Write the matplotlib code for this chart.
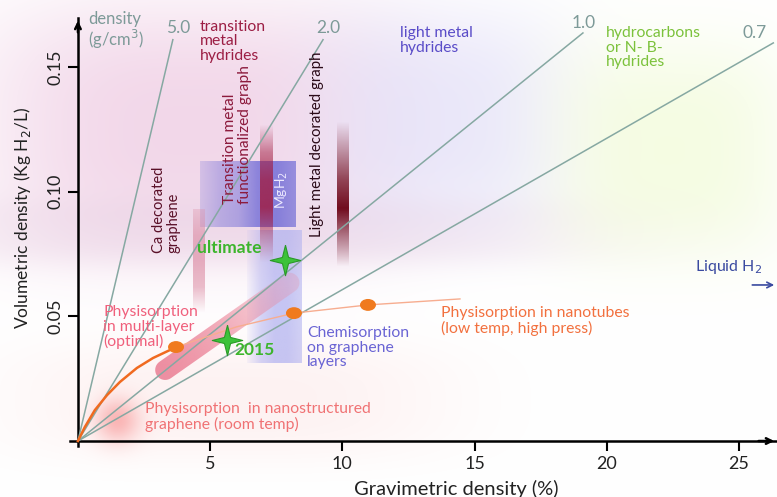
import numpy as np
import matplotlib
matplotlib.use('Agg')
import matplotlib.pyplot as plt
from matplotlib.path import Path
from matplotlib.patches import Ellipse, Polygon

plt.rcParams['font.family'] = ['Lato', 'DejaVu Sans']

# density guide lines (g/cm3): label, end point of the drawn line, label position
densities = ['5.0', '2.0', '1.0', '0.7']
dens_end_x = [3.59, 9.27, 19.1, 26.3]
dens_end_y = [0.161, 0.161, 0.1637, 0.1597]
dens_lab_x = [3.78, 9.46, 19.14, 25.6]
dens_lab_y = [0.1657, 0.1657, 0.1675, 0.1635]

# physisorption in multi-layer (optimal) curve
multi_x = [0.0, 0.26, 0.64, 1.10, 1.59, 2.23, 2.84, 3.48, 3.71]
multi_y = [0.0, 0.0056, 0.0124, 0.0184, 0.0237, 0.0293, 0.0333, 0.0365, 0.0377]

# physisorption in nanotubes (measured points and trend)
tube_x = [3.71, 8.17, 10.97]
tube_y = [0.0377, 0.0513, 0.0546]
trend_x = [3.71, 6.0, 8.17, 10.97, 14.45]
trend_y = [0.0377, 0.0458, 0.0513, 0.0546, 0.057]

# targets
target_names = ['ultimate', '2015']
target_x = [7.83, 5.64]
target_y = [0.0726, 0.0405]

# multi-layer band
band_x = [3.3, 8.0]
band_y = [0.0285, 0.0635]

# regions: (x0, x1, y0, y1)
mgh2_box = (4.6, 8.2, 0.0858, 0.112)
chem_box = (6.39, 8.47, 0.0313, 0.0846)
ca_bar = (4.35, 4.8, 0.0513, 0.0927)
tm_bar = (6.88, 7.34, 0.0714, 0.127)
lm_bar = (9.8, 10.25, 0.0698, 0.128)

W, H = 777, 497
fig = plt.figure(figsize=(W / 100, H / 100), dpi=100)

# soft coloured background washes
bg = fig.add_axes([0, 0, 1, 1], zorder=0)
yy, xx = np.mgrid[0:H, 0:W]
img = np.ones((H, W, 3))


def wash(cx, cy, sx, sy, col, a, p=2):
    m = a * np.exp(-(np.abs((xx - cx) / sx) ** p + np.abs((yy - cy) / sy) ** p))
    for k in range(3):
        img[:, :, k] = img[:, :, k] * (1 - m) + col[k] * m


wash(190, 130, 210, 130, (0.93, 0.78, 0.88), 0.7, 3)
wash(260, 230, 330, 35, (0.90, 0.80, 0.88), 0.45, 3)
wash(440, 120, 130, 110, (0.86, 0.85, 0.97), 0.55, 3)
wash(670, 150, 120, 110, (0.93, 0.98, 0.80), 0.55, 3)
wash(230, 400, 220, 60, (0.99, 0.90, 0.90), 0.5, 3)
wash(117, 420, 22, 22, (0.97, 0.55, 0.55), 0.6, 2)
bg.imshow(img, extent=[0, W, H, 0], aspect='auto')
bg.axis('off')

L, B, T = 70, 446, 18
ax = fig.add_axes([L / W, (H - B) / H, (W - L) / W, (B - T) / H], zorder=1)
ax.patch.set_alpha(0)
ax.set_xlim(-0.3, 26.44)
ax.set_ylim(-0.002, 0.1697)
for s in ['top', 'right']:
    ax.spines[s].set_visible(False)
ax.spines['left'].set_position(('data', 0))
ax.spines['bottom'].set_position(('data', 0))
ax.spines['left'].set_linewidth(1.8)
ax.spines['bottom'].set_linewidth(1.8)
ax.annotate('', xy=(0, 1.0), xytext=(0, 0.96), xycoords=('data', 'axes fraction'),
            arrowprops=dict(arrowstyle='->', lw=1.8, color='black'), annotation_clip=False)
ax.annotate('', xy=(1.0, 0), xytext=(0.97, 0), xycoords=('axes fraction', 'data'),
            arrowprops=dict(arrowstyle='->', lw=1.8, color='black'), annotation_clip=False)

ax.set_xticks([5, 10, 15, 20, 25])
ax.set_xticklabels(['5', '10', '15', '20', '25'], fontsize=13, color='#222222')
ax.set_yticks([0.05, 0.10, 0.15])
ax.set_yticklabels(['0.05', '0.10', '0.15'], rotation=90, va='center', fontsize=13, color='#222222')
ax.tick_params(direction='out', length=7, width=1.5)
ax.set_xlabel('Gravimetric density (%)', fontsize=14.5, color='#222222')
ax.xaxis.set_label_coords(0.546, -0.079)
ax.set_ylabel('Volumetric density (Kg H$_2$/L)', fontsize=12.5, color='#222222')
ax.yaxis.set_label_coords(-0.052, 0.533)


def grad_box(box, col, alphas, axis, z=2):
    x0, x1, y0, y1 = box
    a = np.interp(np.linspace(0, 1, 100), np.linspace(0, 1, len(alphas)), alphas)
    if axis == 'x':
        A = np.tile(a, (20, 1))
    else:
        A = np.tile(a[::-1, None], (1, 20))
    rgba = np.zeros(A.shape + (4,))
    rgba[..., :3] = matplotlib.colors.to_rgb(col)
    rgba[..., 3] = A
    ax.imshow(rgba, extent=[x0, x1, y0, y1], aspect='auto', zorder=z, interpolation='bilinear')


grad_box(chem_box, '#b4b4f0', [0.1, 0.55, 0.75, 0.75, 0.6], 'x', 2)
grad_box(mgh2_box, '#7a74d8', [0.25, 0.45, 0.55, 0.85, 0.9, 0.75], 'x', 2)
grad_box(ca_bar, '#dc8aa2', [0.0, 0.55, 0.65, 0.6, 0.3], 'y', 3)
grad_box(tm_bar, '#a0183c', [0.0, 0.35, 0.8, 0.75, 0.5, 0.0], 'y', 3)
grad_box(lm_bar, '#6a0012', [0.0, 0.45, 0.95, 0.7, 0.35, 0.0], 'y', 3)

# thick multi-layer band: rounded outline built in pixel space, filled with a fading gradient
p0, p1 = ax.transData.transform([(band_x[0], band_y[0]), (band_x[1], band_y[1])])
u = (p1 - p0) / np.hypot(*(p1 - p0))
nrm = np.array([-u[1], u[0]])
hw = 10.0
ang = np.linspace(np.pi / 2, 3 * np.pi / 2, 20)
cap0 = [p0 + hw * (np.cos(a) * u + np.sin(a) * nrm) for a in ang]
cap1 = [p1 + hw * (np.cos(a) * u + np.sin(a) * nrm) for a in ang - np.pi]
outline = ax.transData.inverted().transform(np.array(cap0 + cap1))
band_patch = Polygon(outline, closed=True, facecolor='none', edgecolor='none')
ax.add_patch(band_patch)
gx = np.linspace(outline[:, 0].min(), outline[:, 0].max(), 200)
gy = np.linspace(outline[:, 1].min(), outline[:, 1].max(), 200)
GX, GY = np.meshgrid(gx, gy)
pix = ax.transData.transform(np.c_[GX.ravel(), GY.ravel()])
t = np.clip(((pix - p0) @ u) / np.hypot(*(p1 - p0)), 0, 1).reshape(GX.shape)
rgba = np.zeros(GX.shape + (4,))
rgba[..., :3] = matplotlib.colors.to_rgb('#ec8499')
rgba[..., 3] = 0.9 - 0.65 * t ** 1.3
im = ax.imshow(rgba, extent=[gx[0], gx[-1], gy[0], gy[-1]], origin='lower', aspect='auto', zorder=4)
im.set_clip_path(band_patch)

# density lines
for d, ex, ey, lx, ly in zip(densities, dens_end_x, dens_end_y, dens_lab_x, dens_lab_y):
    ax.plot([0, ex], [0, ey], color='#86a8a2', lw=1.1, zorder=5, clip_on=False)
    ax.text(lx, ly, d, fontsize=12.5, color='#7d9a98', ha='center', va='center')

# physisorption curves
ax.plot(trend_x, trend_y, color='#f7ad90', lw=1.0, zorder=5)
ax.plot(multi_x, multi_y, color='#f06a20', lw=1.8, zorder=6)
for x, y in zip(tube_x, tube_y):
    ax.add_patch(Ellipse((x, y), 0.55, 0.0042, color='#f07a1e', zorder=7))

# 4-point stars
star = Path([(0, 1), (0.2, 0.2), (1, 0), (0.2, -0.2), (0, -1), (-0.2, -0.2),
             (-1, 0), (-0.2, 0.2), (0, 1)])
ax.scatter(target_x, target_y, marker=star, s=480, color='#3cc23a', edgecolor='#2a9a28',
           linewidth=0.8, zorder=8)

green = '#3db52c'
ax.text(5.71, 0.0774, 'ultimate', fontsize=12.5, color=green, weight='bold', ha='center', va='center', zorder=9)
ax.text(6.69, 0.0365, '2015', fontsize=12.5, color=green, weight='bold', ha='center', va='center', zorder=9)

fs = 11.3
ax.text(0.38, 0.1725, 'density\n(g/cm$^3$)', fontsize=12, color='#7d9a98', ha='left', va='top', linespacing=1.05)
ax.text(4.61, 0.169, 'transition\nmetal\nhydrides', fontsize=fs, color='#9c1e44', ha='left', va='top', linespacing=1.05)
ax.text(12.18, 0.1665, 'light metal\nhydrides', fontsize=fs, color='#5a4cc8', ha='left', va='top', linespacing=1.05)
ax.text(19.97, 0.1665, 'hydrocarbons\nor N- B-\nhydrides', fontsize=fs, color='#7cc23c', ha='left', va='top', linespacing=1.05)

ax.text(3.33, 0.0754, 'Ca decorated\ngraphene', fontsize=10.5, color='#5a1028', rotation=90,
        ha='center', va='bottom', multialignment='left', linespacing=1.05, zorder=9)
ax.text(6.05, 0.0951, 'Transition metal\nfunctionalized graph', fontsize=11.2, color='#8c1a3c', rotation=90,
        ha='center', va='bottom', multialignment='left', linespacing=1.1, zorder=9)
ax.text(9.04, 0.0818, 'Light metal decorated graph', fontsize=10.8, color='#2a0a18', rotation=90,
        ha='center', va='bottom', zorder=9)
ax.text(7.72, 0.1007, 'MgH$_2$', fontsize=10, color='#eeeaff', rotation=90, ha='center', va='center', zorder=9)

ax.text(0.95, 0.0545, 'Physisorption\nin multi-layer\n(optimal)', fontsize=fs, color='#f0607c',
        ha='left', va='top', linespacing=1.05, zorder=9)
ax.text(8.66, 0.0461, 'Chemisorption\non graphene\nlayers', fontsize=fs, color='#6a64d4',
        ha='left', va='top', linespacing=1.05, zorder=9)
ax.text(13.73, 0.0541, 'Physisorption in nanotubes\n(low temp, high press)', fontsize=fs, color='#f2703e',
        ha='left', va='top', linespacing=1.05, zorder=9)
ax.text(2.53, 0.0156, 'Physisorption  in nanostructured\ngraphene (room temp)', fontsize=fs, color='#f07274',
        ha='left', va='top', linespacing=1.05, zorder=9)
ax.text(23.34, 0.0698, 'Liquid H$_2$', fontsize=11.5, color='#3a4aa0', ha='left', va='center', zorder=9)
ax.annotate('', xy=(26.44, 0.0626), xytext=(25.4, 0.0626),
            arrowprops=dict(arrowstyle='->', lw=1.2, color='#3a4aa0'), annotation_clip=False)

fig.savefig('out.png', dpi=100)
